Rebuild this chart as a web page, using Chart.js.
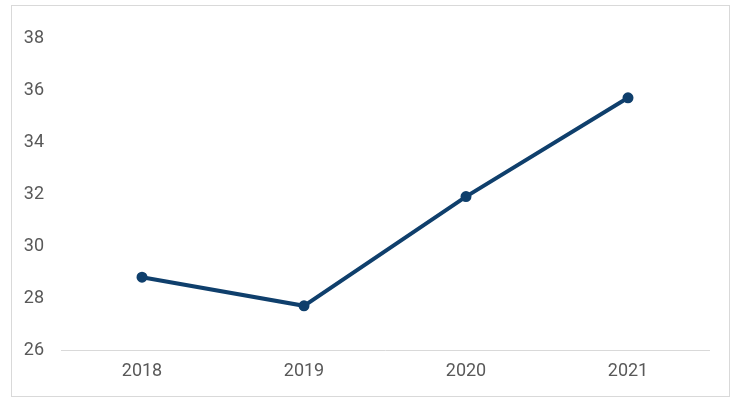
<!DOCTYPE html>
<html lang="en">
<head>
  <meta charset="UTF-8">
  <title>Line chart</title>
  <style>
    body {
      margin: 0;
      background: #ffffff;
      font-family: Roboto, Arial, sans-serif;
    }
    .chart-box {
      position: absolute;
      left: 11px;
      top: 5px;
      width: 717px;
      height: 390px;
      border: 1px solid #d9d9d9;
    }
    canvas {
      display: block;
    }
  </style>
</head>
<body>

<div class="chart-box">
  <canvas id="chart" width="717" height="390"></canvas>
</div>

<script src="https://cdn.jsdelivr.net/npm/chart.js"></script>
<script>
  const years = ["2018", "2019", "2020", "2021"];
  const values = [28.8, 27.7, 31.9, 35.7];
  const yMin = 26;
  const yMax = 38;
  const yStep = 2;

  const ctx = document.getElementById('chart').getContext('2d');
  new Chart(ctx, {
    type: 'line',
    data: {
      labels: years,
      datasets: [{
        data: values,
        borderColor: '#0f3f6c',
        backgroundColor: '#0f3f6c',
        borderWidth: 4,
        pointRadius: 3.5,
        pointHoverRadius: 4,
        tension: 0,
        fill: false
      }]
    },
    options: {
      responsive: false,
      animation: false,
      layout: {
        padding: { left: 0, right: 20, top: 32, bottom: 0 }
      },
      plugins: {
        legend: { display: false },
        tooltip: { enabled: false }
      },
      scales: {
        x: {
          offset: true,
          grid: { display: false, drawTicks: false },
          border: { display: true, color: '#d9d9d9', width: 1 },
          afterFit: (scale) => { scale.height = 46; },
          ticks: {
            color: '#595959',
            font: { family: 'Roboto', size: 18 },
            padding: 11
          }
        },
        y: {
          min: yMin,
          max: yMax,
          grid: { display: false, drawTicks: false },
          border: { display: false },
          afterFit: (scale) => { scale.width = 49; },
          ticks: {
            stepSize: yStep,
            color: '#595959',
            font: { family: 'Roboto', size: 18 },
            padding: 17
          }
        }
      }
    }
  });
</script>
</body>
</html>
